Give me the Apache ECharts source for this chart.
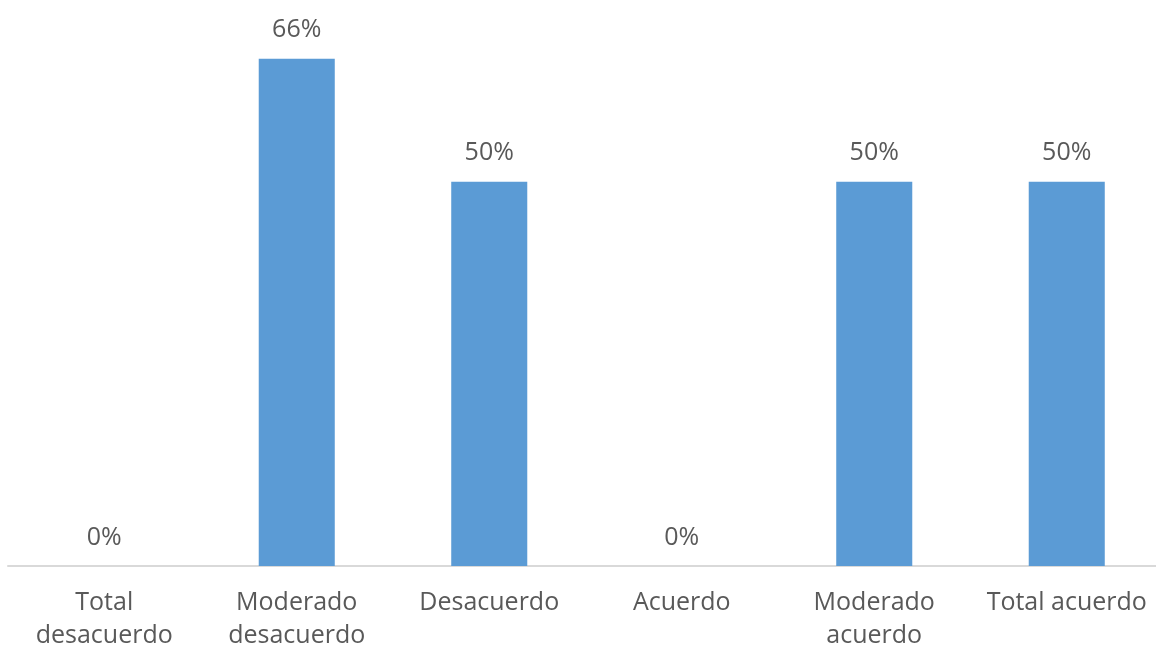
<!DOCTYPE html>
<html><head><meta charset="utf-8">
<script src="https://cdn.jsdelivr.net/npm/echarts@6/dist/echarts.min.js"></script>
<style>html,body{margin:0;padding:0;background:#fff}#c{width:1156px;height:650px}</style>
</head><body><div id="c"></div>
<script>
var categories = ['Total\ndesacuerdo', 'Moderado\ndesacuerdo', 'Desacuerdo', 'Acuerdo', 'Moderado\nacuerdo', 'Total acuerdo'];
var values = [0, 66, 50, 0, 50, 50];
var chart = echarts.init(document.getElementById('c'));
chart.setOption({
  animation: false,
  grid: { left: 8, top: 28, right: -7, bottom: 84, containLabel: false, outerBoundsMode: 'none' },
  xAxis: {
    type: 'category', data: categories,
    axisLine: { lineStyle: { color: '#d9d9d9', width: 2 } },
    axisTick: { show: false },
    axisLabel: { color: '#595959', fontSize: 25, fontFamily: 'Open Sans', lineHeight: 33, margin: 20, interval: 0 }
  },
  yAxis: { type: 'value', min: 0, max: 70, show: false, splitLine: { show: false } },
  series: [{
    type: 'bar', data: values, barWidth: '39.5%',
    itemStyle: { color: '#5b9bd5' },
    label: { show: true, position: 'top', distance: 16, formatter: '{c}%', color: '#595959', fontSize: 25, fontFamily: 'Open Sans' }
  }]
});
</script></body></html>
